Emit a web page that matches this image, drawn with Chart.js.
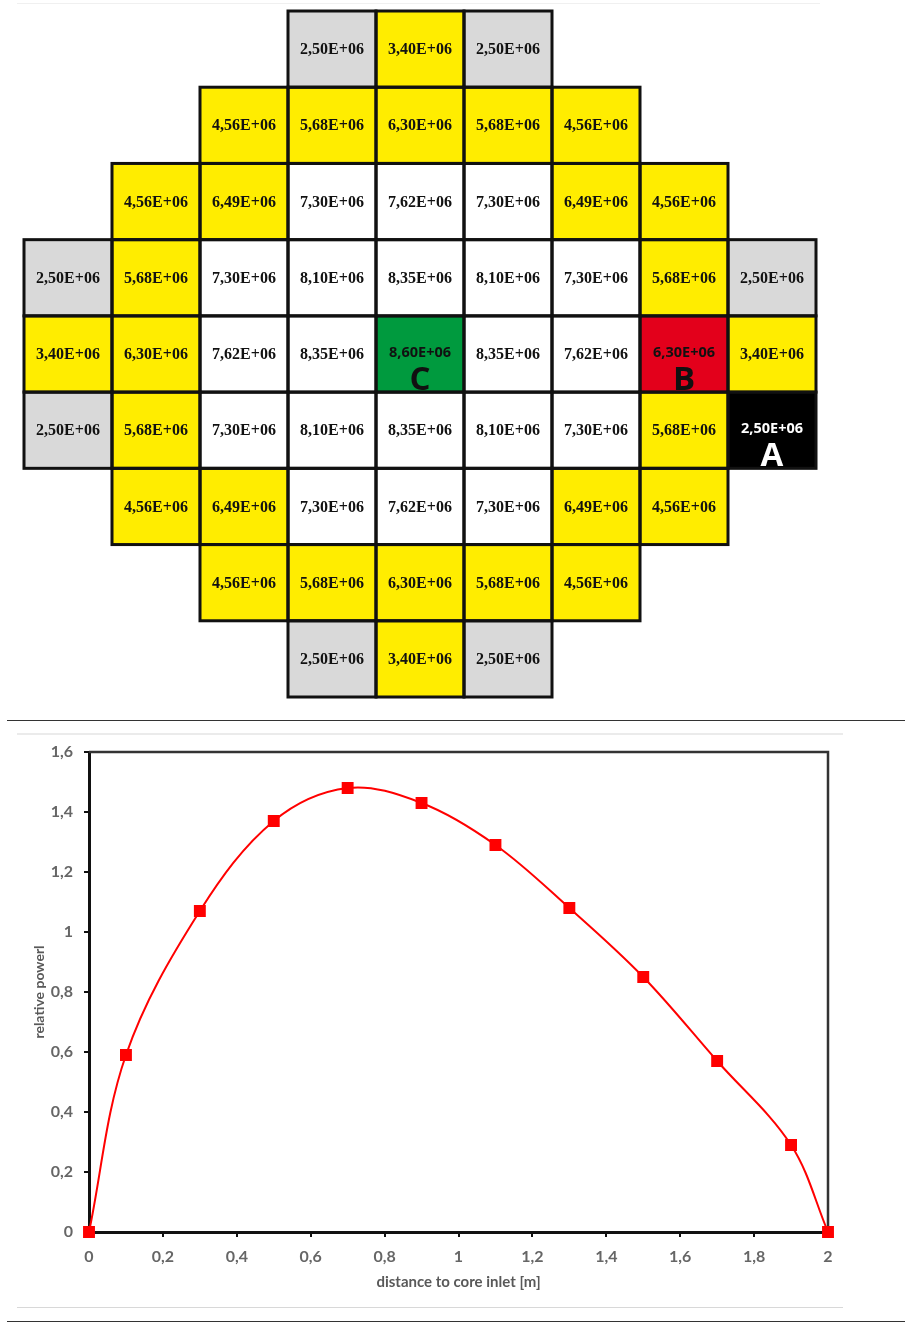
<!DOCTYPE html>
<html>
<head>
<meta charset="utf-8">
<script src="https://cdn.jsdelivr.net/npm/chart.js@4.4.0/dist/chart.umd.min.js"></script>
<style>
  body { margin: 0; background: #fff; }
  #wrap { position: relative; width: 905px; height: 1324px; overflow: hidden; }
  canvas { position: absolute; left: 0; }
  .rule { position: absolute; }
</style>
</head>
<body>
<div id="wrap">
  <canvas id="coreMap" width="905" height="715" style="top:0"></canvas>
  <canvas id="powerChart" width="905" height="604" style="top:720px"></canvas>
  <div class="rule" style="top:3px;left:17px;width:803px;height:1px;background:#f0f0f0"></div>
  <div class="rule" style="top:720px;left:7px;width:898px;height:1px;background:#333"></div>
  <div class="rule" style="top:733px;left:17px;width:826px;height:2px;background:#ebebeb"></div>
  <div class="rule" style="top:1307px;left:17px;width:826px;height:1px;background:#d8d8d8"></div>
  <div class="rule" style="top:1321px;left:7px;width:898px;height:1px;background:#333"></div>
</div>
<script>
// assembly power map (units of 1E+06), null = no assembly
var mapRows = [
  [null, null, null, 2.50, 3.40, 2.50, null, null, null],
  [null, null, 4.56, 5.68, 6.30, 5.68, 4.56, null, null],
  [null, 4.56, 6.49, 7.30, 7.62, 7.30, 6.49, 4.56, null],
  [2.50, 5.68, 7.30, 8.10, 8.35, 8.10, 7.30, 5.68, 2.50],
  [3.40, 6.30, 7.62, 8.35, 8.60, 8.35, 7.62, 6.30, 3.40],
  [2.50, 5.68, 7.30, 8.10, 8.35, 8.10, 7.30, 5.68, 2.50],
  [null, 4.56, 6.49, 7.30, 7.62, 7.30, 6.49, 4.56, null],
  [null, null, 4.56, 5.68, 6.30, 5.68, 4.56, null, null],
  [null, null, null, 2.50, 3.40, 2.50, null, null, null]
];
// marked assemblies
var markLabels = ['C', 'B', 'A'];
var markRows = [4, 4, 5];
var markCols = [4, 7, 8];

// axial power profile
var distance = [0, 0.1, 0.3, 0.5, 0.7, 0.9, 1.1, 1.3, 1.5, 1.7, 1.9, 2];
var relPower = [0, 0.59, 1.07, 1.37, 1.48, 1.43, 1.29, 1.08, 0.85, 0.57, 0.29, 0];

var markColors = { C: '#009a3e', B: '#e3001b', A: '#000000' };

function cellColor(v) {
  if (v < 3) return '#d9d9d9';
  if (v < 7) return '#ffed00';
  return '#ffffff';
}
function fmtE(v) { return v.toFixed(2).replace('.', ',') + 'E+06'; }
function fmtComma(v) { return String(+v.toFixed(1)).replace('.', ','); }

function markOf(r, c) {
  for (var i = 0; i < markLabels.length; i++) {
    if (markRows[i] === r && markCols[i] === c) return markLabels[i];
  }
  return null;
}

var cellPoints = [];
mapRows.forEach(function (row, r) {
  row.forEach(function (v, c) {
    if (v !== null) cellPoints.push({ x: c + 0.5, y: r + 0.5, v: v, r: r, c: c });
  });
});

var coreCells = {
  id: 'coreCells',
  beforeDatasetsDraw: function (chart) {
    var ctx = chart.ctx, xs = chart.scales.x, ys = chart.scales.y;
    function box(p) {
      var x0 = xs.getPixelForValue(p.c), x1 = xs.getPixelForValue(p.c + 1);
      var y0 = ys.getPixelForValue(p.r), y1 = ys.getPixelForValue(p.r + 1);
      return { x0: x0, y0: y0, w: x1 - x0, h: y1 - y0 };
    }
    ctx.save();
    cellPoints.forEach(function (p) {
      var b = box(p), mark = markOf(p.r, p.c);
      ctx.fillStyle = mark ? markColors[mark] : cellColor(p.v);
      ctx.fillRect(b.x0, b.y0, b.w, b.h);
    });
    ctx.strokeStyle = '#111';
    ctx.lineWidth = 3;
    cellPoints.forEach(function (p) {
      var b = box(p);
      ctx.strokeRect(b.x0, b.y0, b.w, b.h);
    });
    ctx.textAlign = 'center';
    cellPoints.forEach(function (p) {
      var b = box(p), mark = markOf(p.r, p.c);
      var cx = b.x0 + b.w / 2;
      if (mark) {
        ctx.fillStyle = mark === 'A' ? '#ffffff' : '#111111';
        ctx.textBaseline = 'middle';
        ctx.font = 'bold 14.5px "Open Sans"';
        ctx.fillText(fmtE(p.v), cx, b.y0 + 37);
        ctx.textBaseline = 'alphabetic';
        ctx.font = 'bold 33px "Open Sans"';
        ctx.fillText(mark, cx, b.y0 + 74);
      } else {
        ctx.fillStyle = '#111111';
        ctx.textBaseline = 'middle';
        ctx.font = 'bold 16px "Liberation Serif"';
        ctx.fillText(fmtE(p.v), cx, b.y0 + b.h / 2 + 1);
      }
    });
    ctx.restore();
  }
};

new Chart(document.getElementById('coreMap'), {
  type: 'scatter',
  data: { datasets: [{ data: cellPoints, pointRadius: 0 }] },
  options: {
    responsive: false,
    animation: false,
    layout: { padding: { top: 11, left: 24, right: 89, bottom: 18 } },
    plugins: { legend: { display: false }, tooltip: { enabled: false } },
    scales: {
      x: { type: 'linear', min: 0, max: 9, display: false },
      y: { type: 'linear', min: 0, max: 9, reverse: true, display: false }
    }
  },
  plugins: [coreCells]
});

var frameTopRight = {
  id: 'frameTopRight',
  beforeDatasetsDraw: function (chart) {
    var a = chart.chartArea, ctx = chart.ctx;
    ctx.save();
    ctx.strokeStyle = '#333';
    ctx.lineWidth = 2.5;
    ctx.beginPath();
    ctx.moveTo(a.left, a.top);
    ctx.lineTo(a.right, a.top);
    ctx.lineTo(a.right, a.bottom);
    ctx.stroke();
    ctx.restore();
  }
};

var tickFont = { family: 'Lato', size: 16, weight: 'bold' };

new Chart(document.getElementById('powerChart'), {
  type: 'scatter',
  data: {
    datasets: [{
      data: distance.map(function (d, i) { return { x: d, y: relPower[i] }; }),
      showLine: true,
      borderColor: '#ff0000',
      backgroundColor: '#ff0000',
      borderWidth: 2,
      pointStyle: 'rect',
      pointRadius: 7,
      tension: 0.35,
      clip: false
    }]
  },
  options: {
    responsive: false,
    animation: false,
    layout: { padding: { top: 32, right: 77, bottom: 33, left: 0 } },
    plugins: { legend: { display: false }, tooltip: { enabled: false } },
    scales: {
      x: {
        type: 'linear', min: 0, max: 2,
        afterFit: function (s) { s.height = 59; },
        ticks: { stepSize: 0.2, padding: 10, color: '#666', font: tickFont, callback: fmtComma },
        grid: { drawOnChartArea: false, drawTicks: true, tickLength: 5, color: '#111', lineWidth: 2 },
        border: { color: '#111', width: 3 },
        title: { display: true, text: 'distance to core inlet [m]', color: '#595959',
                 font: { family: 'Lato', size: 15, weight: 'bold' }, padding: { top: 0, bottom: 0 } }
      },
      y: {
        type: 'linear', min: 0, max: 1.6,
        afterFit: function (s) { s.width = 89; },
        ticks: { stepSize: 0.2, padding: 11, color: '#666', font: tickFont, callback: fmtComma },
        grid: { drawOnChartArea: false, drawTicks: true, tickLength: 5, color: '#111', lineWidth: 2 },
        border: { color: '#111', width: 3 },
        title: { display: true, text: 'relative powerl', color: '#595959',
                 font: { family: 'Lato', size: 14, weight: 'bold' }, padding: { top: 31, bottom: 0 } }
      }
    }
  },
  plugins: [frameTopRight]
});
</script>
</body>
</html>
